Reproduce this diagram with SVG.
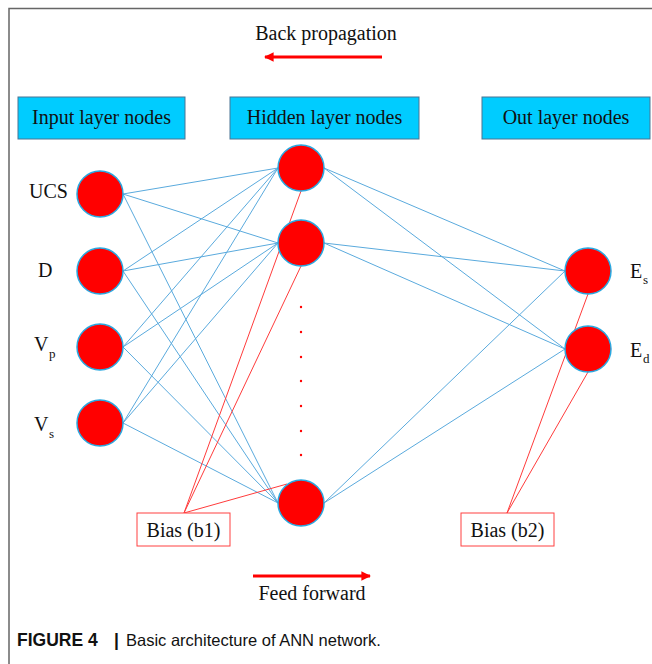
<svg xmlns="http://www.w3.org/2000/svg" width="652" height="664" viewBox="0 0 652 664">
<defs>
<style>
.serif{font-family:"Liberation Serif","Times New Roman",serif;fill:#111;}
.t20{font-size:20px;}
.sub{font-size:13px;}
.layer{fill:#00CCFF;stroke:#4a7593;stroke-width:1;}
.node{fill:#FF0000;stroke:#2aa8e0;stroke-width:1.5;}
.w{stroke:#5aaadd;stroke-width:1;fill:none;}
.b{stroke:#ff3b3b;stroke-width:1;fill:none;}
.bias{fill:#fff;stroke:#ff4040;stroke-width:1;}
.dot{fill:#ff0000;}
.arrow{stroke:#ff0000;stroke-width:3;fill:none;}
</style>
<marker id="ah" viewBox="0 0 10 10" refX="9" refY="5" markerWidth="3.4" markerHeight="3.2" orient="auto" markerUnits="strokeWidth">
<path d="M0,0 L10,5 L0,10 z" fill="#ff0000"/>
</marker>
</defs>
<rect x="0" y="0" width="652" height="664" fill="#fff"/>
<path d="M9,664 V8.5 H652" fill="none" stroke="#666" stroke-width="1.5"/>

<!-- direction labels -->
<g id="backprop">
<text class="serif t20" x="326" y="40" text-anchor="middle">Back propagation</text>
<line class="arrow" x1="382" y1="57" x2="265" y2="57" marker-end="url(#ah)"/>
</g>
<g id="feedforward">
<line class="arrow" x1="253" y1="576" x2="370" y2="576" marker-end="url(#ah)"/>
<text class="serif t20" x="312" y="600" text-anchor="middle">Feed forward</text>
</g>

<!-- layer headers -->
<g id="hdr-input"><rect class="layer" x="18" y="97" width="167" height="42"/><text class="serif t20" x="101.5" y="124" text-anchor="middle">Input layer nodes</text></g>
<g id="hdr-hidden"><rect class="layer" x="230" y="97" width="189" height="42"/><text class="serif t20" x="324.5" y="124" text-anchor="middle">Hidden layer nodes</text></g>
<g id="hdr-out"><rect class="layer" x="482" y="97" width="168" height="42"/><text class="serif t20" x="566" y="124" text-anchor="middle">Out layer nodes</text></g>

<!-- connectors -->
<g id="connectors">
<line class="w" x1="123" y1="194" x2="278" y2="168"/>
<line class="w" x1="123" y1="194" x2="278" y2="243"/>
<line class="w" x1="123" y1="194" x2="278" y2="503"/>
<line class="w" x1="123" y1="271" x2="278" y2="168"/>
<line class="w" x1="123" y1="271" x2="278" y2="243"/>
<line class="w" x1="123" y1="271" x2="278" y2="503"/>
<line class="w" x1="123" y1="347" x2="278" y2="168"/>
<line class="w" x1="123" y1="347" x2="278" y2="243"/>
<line class="w" x1="123" y1="347" x2="278" y2="503"/>
<line class="w" x1="123" y1="423" x2="278" y2="168"/>
<line class="w" x1="123" y1="423" x2="278" y2="243"/>
<line class="w" x1="123" y1="423" x2="278" y2="503"/>
<line class="w" x1="324" y1="168" x2="565" y2="271"/>
<line class="w" x1="324" y1="168" x2="565" y2="349"/>
<line class="w" x1="324" y1="243" x2="565" y2="271"/>
<line class="w" x1="324" y1="243" x2="565" y2="349"/>
<line class="w" x1="324" y1="503" x2="565" y2="271"/>
<line class="w" x1="324" y1="503" x2="565" y2="349"/>
<line class="b" x1="184" y1="513" x2="301" y2="191"/>
<line class="b" x1="184" y1="513" x2="301" y2="266"/>
<line class="b" x1="184" y1="513" x2="287" y2="484"/>
<line class="b" x1="507" y1="513" x2="588" y2="294"/>
<line class="b" x1="507" y1="513" x2="588" y2="372"/>
</g>

<!-- input nodes -->
<g id="in-ucs"><circle class="node" cx="100" cy="194" r="23"/><text class="serif t20" x="29" y="198">UCS</text></g>
<g id="in-d"><circle class="node" cx="100" cy="271" r="23"/><text class="serif t20" x="38" y="277">D</text></g>
<g id="in-vp"><circle class="node" cx="100" cy="347" r="23"/><text class="serif t20" x="34" y="351">V<tspan class="sub" x="49" y="358">p</tspan></text></g>
<g id="in-vs"><circle class="node" cx="100" cy="423" r="23"/><text class="serif t20" x="34" y="431">V<tspan class="sub" x="49" y="438">s</tspan></text></g>

<!-- hidden nodes -->
<g id="hid-1"><circle class="node" cx="301" cy="168" r="23"/></g>
<g id="hid-2"><circle class="node" cx="301" cy="243" r="23"/></g>
<g id="hid-dots">
<circle class="dot" cx="301" cy="307" r="1.2"/>
<circle class="dot" cx="301" cy="332" r="1.2"/>
<circle class="dot" cx="301" cy="357" r="1.2"/>
<circle class="dot" cx="301" cy="381" r="1.2"/>
<circle class="dot" cx="301" cy="406" r="1.2"/>
<circle class="dot" cx="301" cy="431" r="1.2"/>
<circle class="dot" cx="301" cy="455" r="1.2"/>
</g>
<g id="hid-n"><circle class="node" cx="301" cy="503" r="23"/></g>

<!-- output nodes -->
<g id="out-es"><circle class="node" cx="588" cy="271" r="23"/><text class="serif t20" x="630" y="278">E<tspan class="sub" x="643" y="284">s</tspan></text></g>
<g id="out-ed"><circle class="node" cx="588" cy="349" r="23"/><text class="serif t20" x="630" y="357">E<tspan class="sub" x="643" y="363">d</tspan></text></g>

<!-- bias -->
<g id="bias-b1"><rect class="bias" x="137" y="513" width="93" height="33"/><text class="serif t20" x="183.5" y="537" text-anchor="middle">Bias (b1)</text></g>
<g id="bias-b2"><rect class="bias" x="461" y="513" width="93" height="33"/><text class="serif t20" x="507.5" y="537" text-anchor="middle">Bias (b2)</text></g>

<!-- caption -->
<text x="17" y="646" style="font-family:'Liberation Sans',Arial,sans-serif;font-size:16.5px;fill:#111"><tspan font-weight="bold" font-size="17.5">FIGURE 4</tspan><tspan x="114" font-weight="bold" font-size="17.5">|</tspan><tspan x="126">Basic architecture of ANN network.</tspan></text>
</svg>
